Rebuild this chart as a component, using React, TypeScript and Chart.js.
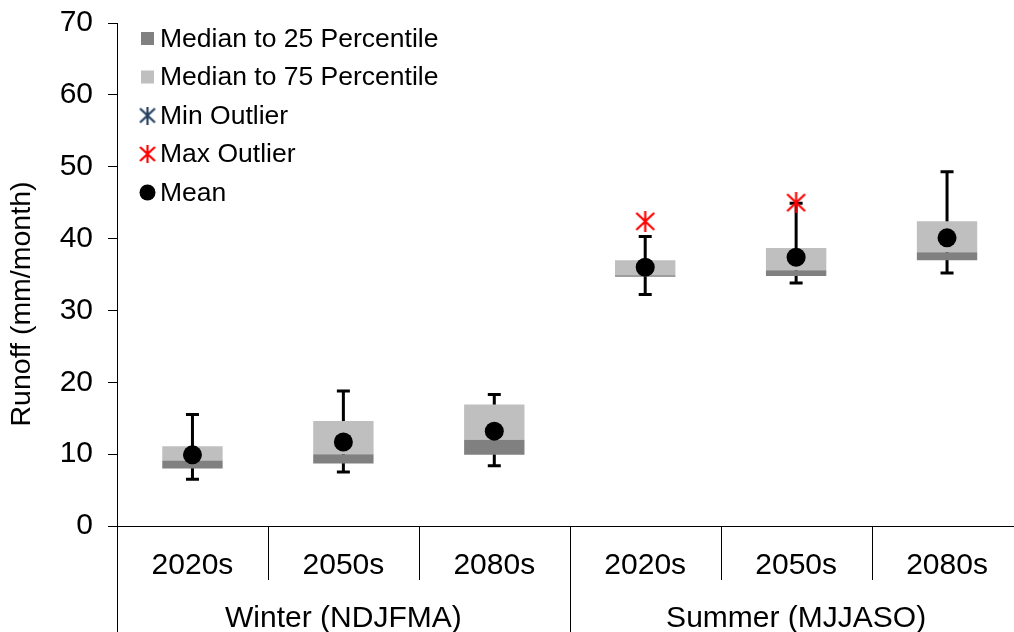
import { useEffect, useRef } from 'react';
import { Chart, registerables } from 'chart.js';

Chart.register(...registerables);

const FONT = '"Liberation Sans", Arial, Helvetica, sans-serif';

// ---- data ----
const categories = ['2020s', '2050s', '2080s', '2020s', '2050s', '2080s'];
const groupLabels = ['Winter (NDJFMA)', 'Summer (MJJASO)'];
const groupSize = 3;
const p25 = [8.0, 8.7, 9.9, 34.7, 34.8, 37.0];
const median = [9.1, 10.0, 12.0, 34.9, 35.6, 38.1];
const p75 = [11.1, 14.6, 16.9, 37.0, 38.7, 42.4];
const whiskerMin = [6.5, 7.5, 8.4, 32.2, 33.8, 35.2];
const whiskerMax = [15.5, 18.8, 18.3, 40.3, 44.9, 49.3];
const meanValues = [9.9, 11.7, 13.2, 36.0, 37.4, 40.1];
const minOutlier: (number | null)[] = [null, null, null, null, null, null];
const maxOutlier: (number | null)[] = [null, null, null, 42.4, 45.0, null];
const yMin = 0;
const yMax = 70;
const yStep = 10;
const yTitle = 'Runoff (mm/month)';

const DARK = '#808080';
const LIGHT = '#bfbfbf';
const MIN_COLOR = '#243f60';
const MAX_COLOR = '#ff0000';

function makeStar(color: string, size: number, lw: number): HTMLCanvasElement {
  const c = document.createElement('canvas');
  c.width = size;
  c.height = size;
  const ctx = c.getContext('2d')!;
  ctx.strokeStyle = color;
  ctx.lineWidth = lw;
  ctx.beginPath();
  ctx.moveTo(size / 2, 0);
  ctx.lineTo(size / 2, size);
  ctx.moveTo(1.5, 2);
  ctx.lineTo(size - 1.5, size - 2);
  ctx.moveTo(size - 1.5, 2);
  ctx.lineTo(1.5, size - 2);
  ctx.stroke();
  return c;
}

export default function App() {
  const ref = useRef<HTMLCanvasElement | null>(null);

  useEffect(() => {
    const canvas = ref.current;
    if (!canvas) return;
    const redStar = makeStar(MAX_COLOR, 21, 2.2);
    const blueStar = makeStar(MIN_COLOR, 21, 2.2);
    const legendStarBlue = makeStar(MIN_COLOR, 18, 2.2);
    const legendStarRed = makeStar(MAX_COLOR, 18, 2.2);

    const whiskerPlugin = {
      id: 'whiskers',
      beforeDatasetsDraw(chart: any) {
        const ctx = chart.ctx;
        const xs = chart.scales.x;
        const ys = chart.scales.y;
        ctx.save();
        ctx.strokeStyle = '#000';
        ctx.lineWidth = 3;
        for (let i = 0; i < categories.length; i++) {
          const x = xs.getPixelForValue(i);
          const yTop = ys.getPixelForValue(whiskerMax[i]);
          const yBot = ys.getPixelForValue(whiskerMin[i]);
          ctx.beginPath();
          ctx.moveTo(x, yTop);
          ctx.lineTo(x, yBot);
          ctx.moveTo(x - 6.5, yTop);
          ctx.lineTo(x + 6.5, yTop);
          ctx.moveTo(x - 6.5, yBot);
          ctx.lineTo(x + 6.5, yBot);
          ctx.stroke();
        }
        ctx.restore();
      },
    };

    const decorPlugin = {
      id: 'decor',
      afterDraw(chart: any) {
        const ctx = chart.ctx;
        const xs = chart.scales.x;
        const area = chart.chartArea;
        const n = categories.length;
        const half = (xs.getPixelForValue(1) - xs.getPixelForValue(0)) / 2;
        ctx.save();
        ctx.strokeStyle = '#000';
        ctx.lineWidth = 1;
        for (let i = 0; i <= n; i++) {
          const xRaw = i < n ? xs.getPixelForValue(i) - half : xs.getPixelForValue(n - 1) + half;
          const x = Math.round(xRaw) + 0.5;
          const long = i % groupSize === 0;
          ctx.beginPath();
          ctx.moveTo(x, area.bottom);
          ctx.lineTo(x, long ? chart.height : area.bottom + 54);
          ctx.stroke();
        }
        ctx.fillStyle = '#000';
        ctx.textAlign = 'center';
        ctx.textBaseline = 'alphabetic';
        ctx.font = `30px ${FONT}`;
        for (let i = 0; i < n; i++) {
          ctx.fillText(categories[i], xs.getPixelForValue(i), 573.5);
        }
        for (let g = 0; g < groupLabels.length; g++) {
          const a = xs.getPixelForValue(g * groupSize);
          const b = xs.getPixelForValue(g * groupSize + groupSize - 1);
          ctx.fillText(groupLabels[g], (a + b) / 2, 627);
        }
        ctx.save();
        ctx.translate(22, 304);
        ctx.rotate(-Math.PI / 2);
        ctx.textAlign = 'center';
        ctx.textBaseline = 'middle';
        ctx.font = `28.5px ${FONT}`;
        ctx.fillText(yTitle, 0, 0);
        ctx.restore();
        const rows = [38.5, 77, 115.5, 154, 192.5];
        const mx = 147.5;
        const tx = 160;
        const labels = chart.data.datasets.map((d: any) => d.label);
        ctx.font = `26.5px ${FONT}`;
        ctx.textAlign = 'left';
        ctx.textBaseline = 'middle';
        ctx.fillStyle = DARK;
        ctx.fillRect(mx - 6.5, rows[0] - 6.5, 13, 13);
        ctx.fillStyle = LIGHT;
        ctx.fillRect(mx - 6.5, rows[1] - 6.5, 13, 13);
        ctx.drawImage(legendStarBlue, mx - 9, rows[2] - 9);
        ctx.drawImage(legendStarRed, mx - 9, rows[3] - 9);
        ctx.fillStyle = '#000';
        ctx.beginPath();
        ctx.arc(mx, rows[4], 8, 0, Math.PI * 2);
        ctx.fill();
        for (let i = 0; i < labels.length; i++) {
          ctx.fillText(labels[i], tx, rows[i] + 1);
        }
        ctx.restore();
      },
    };

    const chart = new Chart(canvas, {
      data: {
        labels: categories,
        datasets: [
          {
            type: 'bar',
            label: 'Median to 25 Percentile',
            data: p25.map((v, i) => [v, median[i]]) as any,
            backgroundColor: DARK,
            borderWidth: 0,
            grouped: false,
            barPercentage: 0.4,
            categoryPercentage: 1,
            order: 3,
          },
          {
            type: 'bar',
            label: 'Median to 75 Percentile',
            data: median.map((v, i) => [v, p75[i]]) as any,
            backgroundColor: LIGHT,
            borderWidth: 0,
            grouped: false,
            barPercentage: 0.4,
            categoryPercentage: 1,
            order: 3,
          },
          {
            type: 'line',
            label: 'Min Outlier',
            data: minOutlier,
            showLine: false,
            pointStyle: blueStar as any,
            order: 1,
          },
          {
            type: 'line',
            label: 'Max Outlier',
            data: maxOutlier,
            showLine: false,
            pointStyle: redStar as any,
            order: 1,
          },
          {
            type: 'line',
            label: 'Mean',
            data: meanValues,
            showLine: false,
            pointRadius: 9.5,
            pointBackgroundColor: '#000',
            pointBorderColor: '#000',
            pointBorderWidth: 0,
            order: 0,
          },
        ],
      } as any,
      options: {
        responsive: true,
        maintainAspectRatio: false,
        animation: false,
        events: [],
        layout: { padding: { top: 23, left: 0, right: 0, bottom: 0 } },
        plugins: {
          legend: { display: false },
          tooltip: { enabled: false },
        },
        scales: {
          x: {
            type: 'category',
            grid: { display: false, drawTicks: false },
            ticks: { display: false },
            border: { display: true, color: '#000', width: 1 },
            afterFit: (s: any) => {
              s.height = 106;
              s.paddingLeft = 0;
              s.paddingRight = 0;
            },
          },
          y: {
            type: 'linear',
            min: yMin,
            max: yMax,
            ticks: {
              stepSize: yStep,
              color: '#000',
              padding: 15,
              font: { family: FONT, size: 30 },
            },
            grid: {
              drawOnChartArea: false,
              drawTicks: true,
              tickLength: 9,
              color: '#000',
              lineWidth: 1,
            },
            border: { display: true, color: '#000', width: 1 },
            afterFit: (s: any) => {
              s.width = 117;
              s.paddingTop = 0;
              s.paddingBottom = 0;
            },
          },
        },
      } as any,
      plugins: [whiskerPlugin, decorPlugin],
    });
    return () => chart.destroy();
  }, []);

  return (
    <div
      style={{
        position: 'fixed',
        left: 0,
        top: 0,
        width: 1014,
        height: 632,
        overflow: 'hidden',
        background: '#fff',
      }}
    >
      <div style={{ position: 'relative', width: 1032, height: 632 }}>
        <canvas ref={ref} />
      </div>
    </div>
  );
}
